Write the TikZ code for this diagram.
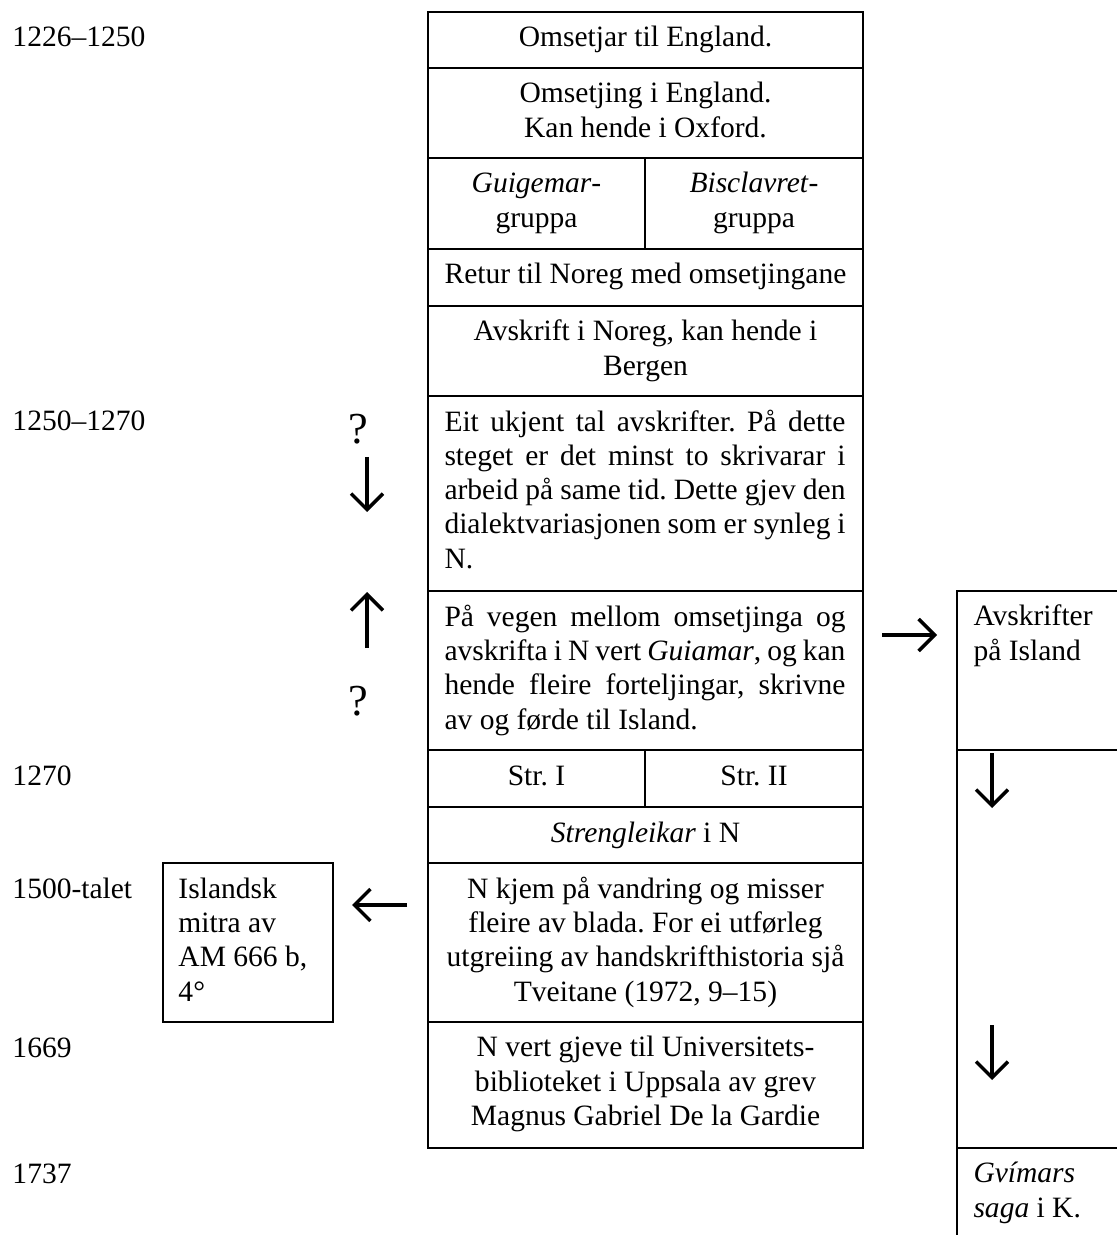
\documentclass[tikz,border=0pt]{standalone}
\usepackage{fontspec}
\setmainfont{Liberation Serif}
\usetikzlibrary{arrows.meta}
\frenchspacing
% width of a justified line in the main column
\newlength\jw
\setlength\jw{163pt}
\newcommand\jline[1]{\makebox[\jw][s]{#1}}
\begin{document}
\begin{tikzpicture}[x=0.4065pt,y=-0.4065pt,
  rule/.style={line width=0.9pt},
  txt/.style={font=\fontsize{12}{13.95}\selectfont, inner sep=0pt, anchor=base},
  ctr/.style={txt, align=center},
  lft/.style={txt, align=left, anchor=base west},
  year/.style={txt, anchor=base west},
  qmark/.style={font=\fontsize{18}{20}\selectfont, inner sep=0pt, anchor=base},
  arr/.style={line width=1.4pt, -{Straight Barb[length=6.5pt,width=13pt]}}
]
\useasboundingbox (0,0) rectangle (1116,1235);

% ---- main column: frame, row rules and split cells
\draw[rule] (428,12) rectangle (863,1148);
\foreach \yy in {68,158,249,306,396,591,750,807,863,1022}
  \draw[rule] (428,\yy) -- (863,\yy);
\draw[rule] (645,158) -- (645,249);
\draw[rule] (645,750) -- (645,807);

% ---- side box (Icelandic copy) and right column
\draw[rule] (163,863) rectangle (333,1022);
\draw[rule] (1120,591) -- (957,591) -- (957,1240);
\draw[rule] (957,750) -- (1120,750);
\draw[rule] (957,1148) -- (1120,1148);

% ---- dates
\node[year] (d1) at (12,47)   {1226–1250};
\node[year] (d2) at (12,431)  {1250–1270};
\node[year] (d3) at (12,785)  {1270};
\node[year] (d4) at (12,898)  {1500-talet};
\node[year] (d5) at (12,1057) {1669};
\node[year] (d6) at (12,1183) {1737};

% ---- main column texts (multi-line nodes sit on the baseline of their last line)
\node[ctr] (m1) at (645.5,47)  {Omsetjar til England.};
\node[ctr] (m2) at (645.5,137.3) {Omsetjing i England.\\Kan hende i Oxford.};
\node[ctr] (m3a) at (536.5,227.3) {\textit{Guigemar}-\\gruppa};
\node[ctr] (m3b) at (754,227.3)   {\textit{Bisclavret}-\\gruppa};
\node[ctr] (m4) at (645.5,284) {Retur til Noreg med omsetjingane};
\node[ctr] (m5) at (645.5,375.3) {Avskrift i Noreg, kan hende i\\Bergen};
\node[lft] (m6) at (444,568.3) {\jline{Eit ukjent tal avskrifter. På dette}\\
  \jline{steget er det minst to skrivarar i}\\
  \jline{arbeid på same tid. Dette gjev den}\\
  \jline{dialektvariasjonen som er synleg i}\\
  N.};
\node[lft] (m7) at (444,729) {\jline{På vegen mellom omsetjinga og}\\
  \jline{avskrifta i N vert \textit{Guiamar}, og kan}\\
  \jline{hende fleire forteljingar, skrivne}\\
  av og førde til Island.};
\node[ctr] (m8a) at (536.5,785) {Str. I};
\node[ctr] (m8b) at (754,785)   {Str. II};
\node[ctr] (m9) at (645.5,842) {\textit{Strengleikar} i N};
\node[ctr] (m10) at (645.5,1001) {N kjem på vandring og misser\\fleire av blada. For ei utførleg\\utgreiing av handskrifthistoria sjå\\Tveitane (1972, 9–15)};
\node[ctr] (m11) at (645.5,1125.6) {N vert gjeve til Universitets-\\biblioteket i Uppsala av grev\\Magnus Gabriel De la Gardie};

% ---- side and right column texts
\node[lft] (isl) at (178,1001) {Islandsk\\mitra av\\AM 666 b,\\4°};
\node[lft] (r1) at (973,660.3) {Avskrifter\\på Island};
\node[lft] (r2) at (973,1217.3) {\textit{Gvímars}\\\textit{saga} i K.};

% ---- question marks and arrows
\node[qmark] (q1) at (358,444) {?};
\node[qmark] (q2) at (358,715) {?};
\coordinate (a1s) at (367,457);  \coordinate (a1e) at (367,512);
\coordinate (a2s) at (367,648);  \coordinate (a2e) at (367,592);
\coordinate (a3s) at (882,635);  \coordinate (a3e) at (937,635);
\coordinate (a4s) at (407,905);  \coordinate (a4e) at (352,905);
\coordinate (a5s) at (992,753);  \coordinate (a5e) at (992,808);
\coordinate (a6s) at (992,1025); \coordinate (a6e) at (992,1080);
\draw[arr] (a1s) -- (a1e);
\draw[arr] (a2s) -- (a2e);
\draw[arr] (a3s) -- (a3e);
\draw[arr] (a4s) -- (a4e);
\draw[arr] (a5s) -- (a5e);
\draw[arr] (a6s) -- (a6e);
\end{tikzpicture}
\end{document}
